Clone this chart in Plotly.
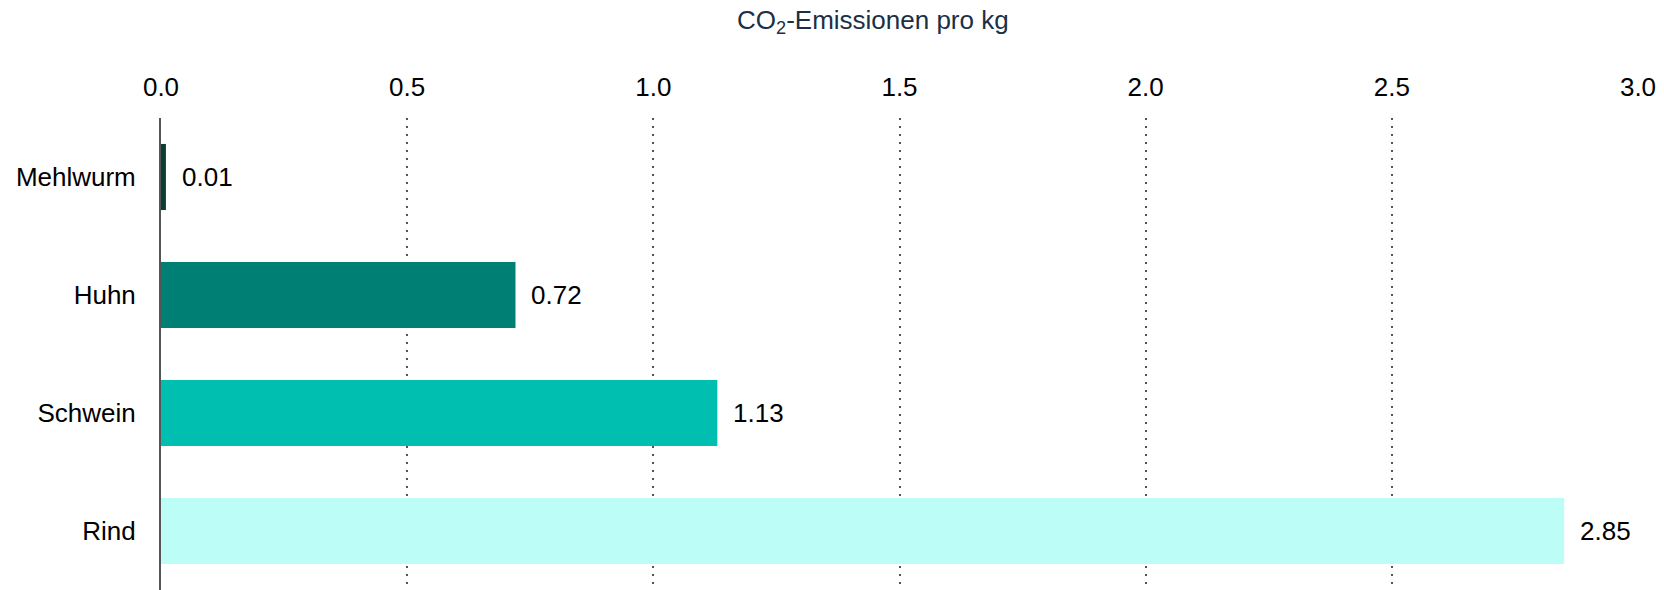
import plotly.graph_objects as go

# CO2 emissions per kg of protein source
categories = ["Mehlwurm", "Huhn", "Schwein", "Rind"]
values = [0.01, 0.72, 1.13, 2.85]
bar_colors = ["#0a3d33", "#008074", "#00bfb0", "#bcfdf7"]
x_ticks = [0.0, 0.5, 1.0, 1.5, 2.0, 2.5, 3.0]
x_tick_labels = ["0.0", "0.5", "1.0", "1.5", "2.0", "2.5", "3.0"]

FONT = "Arial, Liberation Sans, sans-serif"

fig = go.Figure(
    go.Bar(
        x=values,
        y=categories,
        orientation="h",
        marker=dict(color=bar_colors, line=dict(width=0)),
        hoverinfo="skip",
    )
)

# value labels to the right of each bar
for cat, val in zip(categories, values):
    fig.add_annotation(
        x=val, y=cat, xref="x", yref="y",
        text=f"{val:.2f}", showarrow=False,
        xanchor="left", yanchor="middle", xshift=14,
        font=dict(family=FONT, size=26, color="#000000"),
    )

fig.add_annotation(
    x=0.482, y=1, xref="paper", yref="paper",
    text="CO<sub>2</sub>-Emissionen pro kg", showarrow=False,
    xanchor="center", yanchor="middle", yshift=97,
    font=dict(family=FONT, size=26, color="#1b2f45"),
)

fig.update_layout(
    width=1664, height=590,
    margin=dict(l=161, r=26, t=118, b=0),
    paper_bgcolor="white", plot_bgcolor="white",
    bargap=0.44,
    showlegend=False,
    font=dict(family=FONT, size=26, color="#000000"),
    xaxis=dict(
        side="top", range=[0, 3.0],
        tickmode="array", tickvals=x_ticks, ticktext=x_tick_labels,
        showgrid=True, gridcolor="#555555", gridwidth=1.5, griddash="2px,6px",
        zeroline=False, showline=False, ticks="", ticklabelstandoff=16,
        tickfont=dict(family=FONT, size=26, color="#000000"),
    ),
    yaxis=dict(
        autorange="reversed", showgrid=False, zeroline=False,
        showline=True, linecolor="#555555", linewidth=2,
        ticks="", ticklabelstandoff=18,
        tickfont=dict(family=FONT, size=26, color="#000000"),
    ),
)

fig.write_html("out.html")
